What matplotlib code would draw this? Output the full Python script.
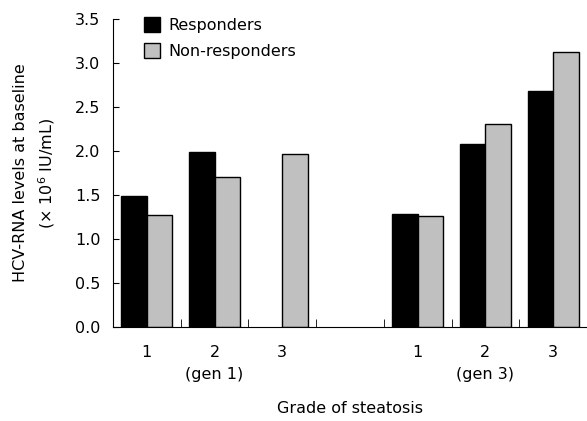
import numpy as np
import matplotlib
matplotlib.use("Agg")
import matplotlib.pyplot as plt

# grade of steatosis, genotype 1 and genotype 3 (one empty slot between)
grades = ["1", "2", "3", "", "1", "2", "3"]
groups = ["(gen 1)", "(gen 3)"]
responders = [1.49, 1.99, np.nan, np.nan, 1.28, 2.08, 2.68]
non_responders = [1.27, 1.70, 1.97, np.nan, 1.26, 2.31, 3.12]

plt.rcParams['font.family'] = ['DejaVu Sans']
plt.rcParams['font.size'] = 11

fig = plt.figure(figsize=(5.87, 4.21), dpi=100)
ax = fig.add_axes([113 / 587, 1 - 327 / 421, 474 / 587, 308 / 421])

x = np.arange(len(grades))
w = 0.375
ax.bar(x - w / 2, responders, w, color='black', edgecolor='black', linewidth=1,
       label='Responders')
ax.bar(x + w / 2, non_responders, w, color='#c0c0c0', edgecolor='black', linewidth=1,
       label='Non-responders')

ax.set_xlim(-0.5, len(grades) - 0.5)
ax.set_ylim(0, 3.5)
ax.set_yticks(np.arange(0, 3.51, 0.5))
ax.set_yticklabels(['%.1f' % v for v in np.arange(0, 3.51, 0.5)])
ax.tick_params(axis='y', direction='in', length=4, pad=9, labelsize=11.5)

ax.set_xticks(x)
ax.set_xticklabels(grades)
ax.tick_params(axis='x', which='major', length=0, pad=13, labelsize=11.5)
ax.set_xticks(x[:-1] + 0.5, minor=True)
ax.tick_params(axis='x', which='minor', direction='in', length=6)

for s in ['top', 'right']:
    ax.spines[s].set_visible(False)

trans = ax.get_xaxis_transform()
ax.text(1, -0.155, groups[0], transform=trans, ha='center', va='center', fontsize=11.5)
ax.text(5, -0.155, groups[1], transform=trans, ha='center', va='center', fontsize=11.5)
ax.text(3.0, -0.265, 'Grade of steatosis', transform=trans, ha='center', va='center',
        fontsize=11.5)

ax.set_ylabel('HCV-RNA levels at baseline\n(× 10$^6$ IU/mL)', fontsize=11.5,
              linespacing=1.5, labelpad=13)

ax.legend(loc='upper left', bbox_to_anchor=(0.035, 1.052), frameon=False, fontsize=11.5,
          handlelength=1.0, handleheight=1.0, handletextpad=0.5, labelspacing=0.65)

fig.savefig('out.png', dpi=100)
